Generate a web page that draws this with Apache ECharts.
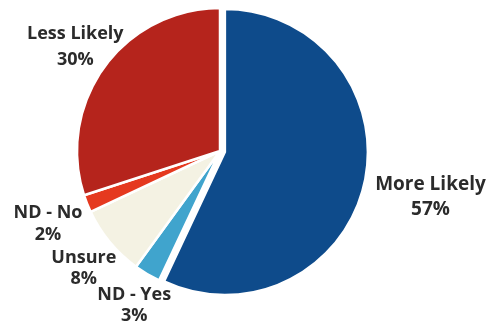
<!DOCTYPE html>
<html>
<head>
<meta charset="utf-8">
<script src="https://cdn.jsdelivr.net/npm/echarts@6/dist/echarts.min.js"></script>
<style>
  html, body { margin: 0; padding: 0; background: #ffffff; }
  #chart { width: 497px; height: 325px; }
</style>
</head>
<body>
<div id="chart"></div>
<script>
// Survey response shares (percent)
const categories = ['More Likely', 'ND - Yes', 'Unsure', 'ND - No', 'Less Likely'];
const shares = [57, 3, 8, 2, 30];
const sliceColors = ['#0e4b8b', '#40a4cd', '#f4f2e3', '#e5391f', '#b5241c'];

// per-slice label nudges [dx, dy] and text metrics
const labelOffsets = [[5, 14], [48, 31], [35, 26], [22, 20], [32, -20]];
const labelLineHeights = [25, 21, 21, 22, 26];
const labelFontSizes = [19, 18, 18, 18, 18];

const chart = echarts.init(document.getElementById('chart'), null, { renderer: 'canvas' });

const data = categories.map((name, i) => {
  const lbl = {
    offset: labelOffsets[i],
    rich: {
      t: {
        fontFamily: 'Open Sans',
        fontWeight: 'bold',
        fontSize: labelFontSizes[i],
        color: '#2b2b2b',
        lineHeight: labelLineHeights[i],
        width: 112,
        align: 'center'
      }
    }
  };
  return {
    name: name,
    value: shares[i],
    selected: i === 0,
    itemStyle: { color: sliceColors[i] },
    label: lbl,
    select: { label: lbl, itemStyle: { color: sliceColors[i] } }
  };
});

chart.setOption({
  backgroundColor: '#ffffff',
  animation: false,
  series: [{
    type: 'pie',
    center: [220, 151],
    radius: 143,
    startAngle: 90,
    clockwise: true,
    avoidLabelOverlap: false,
    minShowLabelAngle: 0,
    selectedMode: 'single',
    selectedOffset: 5,
    itemStyle: { borderColor: '#ffffff', borderWidth: 2.5 },
    emphasis: { disabled: true },
    labelLine: { show: false, length: 0, length2: 0 },
    labelLayout: { hideOverlap: false },
    label: {
      show: true,
      position: 'outside',
      alignTo: 'none',
      formatter: (p) => '{t|' + p.name + '}\n{t|' + p.value + '%}'
    },
    data: data
  }]
});
</script>
</body>
</html>
